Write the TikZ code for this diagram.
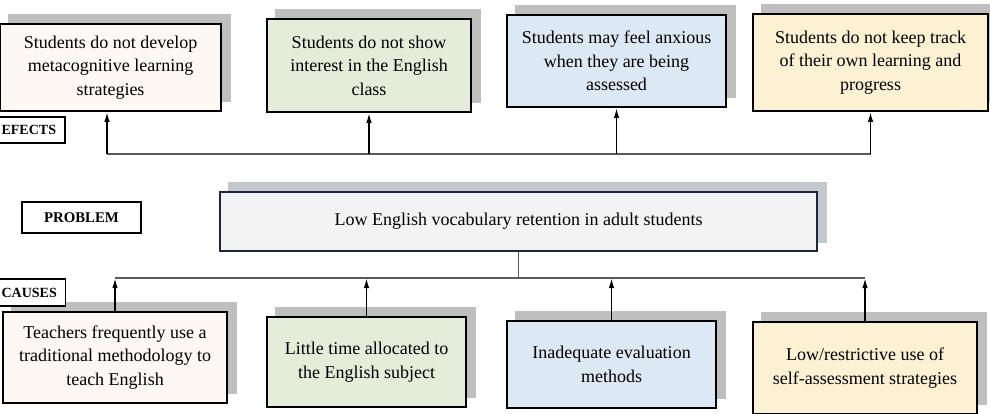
\documentclass[tikz,border=0pt]{standalone}
\usepackage{fontspec}
\setmainfont{Liberation Serif}
\usetikzlibrary{arrows.meta}
\pgfdeclarelayer{bg}
\pgfsetlayers{bg,main}
\definecolor{fillA}{HTML}{FDF8F3}
\definecolor{fillB}{HTML}{E3EDD9}
\definecolor{fillC}{HTML}{DDE8F5}
\definecolor{fillD}{HTML}{FDF1D3}
\definecolor{fillM}{HTML}{F3F3F4}
\definecolor{edgeM}{HTML}{1E2440}
\definecolor{shadowgray}{HTML}{BFBFBF}
\definecolor{shadowM}{HTML}{C3C8CD}
\definecolor{busgray}{HTML}{5A5A5A}
\begin{document}
\begin{tikzpicture}[x=1pt,y=-1pt,
  box/.style={draw=black, line width=1.8pt, align=center, inner sep=0pt,
    font=\fontsize{18}{23.5}\selectfont},
  mainbox/.style={box, draw=edgeM, fill=fillM},
  lbl/.style={draw=black, line width=1.2pt, fill=white, inner xsep=9pt, inner ysep=0pt,
    font=\bfseries\fontsize{14.8}{16}\selectfont},
  sidelbl/.style={lbl, anchor=west, font=\bfseries\fontsize{14}{16}\selectfont},
  shad/.style={fill=shadowgray},
  bus/.style={draw=busgray, line width=1.2pt},
  arr/.style={draw=black, line width=1.6pt, -{Latex[length=10pt,width=5.5pt]}}]
\useasboundingbox (0,0) rectangle (990,413);

% effects
\node[box, fill=fillA, minimum width=221pt, minimum height=87pt] (t1) at (110.5,67.5)
  {Students do not develop\\metacognitive learning\\strategies};
\node[box, fill=fillB, minimum width=204pt, minimum height=93pt] (t2) at (369,65.5)
  {Students do not show\\interest in the English\\class};
\node[box, fill=fillC, minimum width=219pt, minimum height=92pt] (t3) at (616.5,61)
  {Students may feel anxious\\when they are being\\assessed};
\node[box, fill=fillD, minimum width=235pt, minimum height=97pt] (t4) at (870.5,62.5)
  {Students do not keep track\\of their own learning and\\progress};

% problem
\node[mainbox, minimum width=597pt, minimum height=59pt] (main) at (518.5,221.5)
  {Low English vocabulary retention in adult students};

% causes
\node[box, fill=fillA, minimum width=224pt, minimum height=91pt] (b1) at (115,357.5)
  {Teachers frequently use a\\traditional methodology to\\teach English};
\node[box, fill=fillB, minimum width=199pt, minimum height=90pt] (b2) at (366.5,362)
  {Little time allocated to\\the English subject};
\node[box, fill=fillC, minimum width=209pt, minimum height=87pt] (b3) at (611.5,364.5)
  {Inadequate evaluation\\methods};
\node[box, fill=fillD, minimum width=224pt, minimum height=92pt] (b4) at (865,368)
  {Low/restrictive use of\\self-assessment strategies};

% labels
\node[sidelbl, minimum height=26pt] (efl) at (-8,130) {EFECTS};
\node[lbl, minimum width=119pt, minimum height=31pt] (prl) at (81.5,217.5) {PROBLEM};
\node[sidelbl, minimum height=27pt] (cal) at (-8,292.5) {CAUSES};

% shadows
\begin{pgfonlayer}{bg}
  \foreach \n in {t1,t2,t3,t4,b1,b2,b3,b4}
    \fill[shad] ([shift={(9,-9.5)}]\n.south west) rectangle ([shift={(9,-9.5)}]\n.north east);
  \fill[shadowM] ([shift={(9,-9)}]main.south west) rectangle ([shift={(9,-9)}]main.north east);
\end{pgfonlayer}

% connectors
\coordinate (topbus) at (0,154);
\coordinate (botbus) at (0,278);
\draw[bus] ([xshift=-3.5pt]t1.south |- topbus) -- (t4.south |- topbus);
\draw[arr] ([xshift=-3.5pt]t1.south |- topbus) -- ([xshift=-3.5pt]t1.south);
\foreach \n in {t2,t3,t4}
  \draw[arr] (\n.south |- topbus) -- (\n.south);
\draw[bus] (b1.north |- botbus) -- (b4.north |- botbus);
\draw[bus] (main.south) -- (main.south |- botbus);
\foreach \n in {b1,b2,b3,b4}
  \draw[arr] (\n.north) -- (\n.north |- botbus);
\end{tikzpicture}
\end{document}
